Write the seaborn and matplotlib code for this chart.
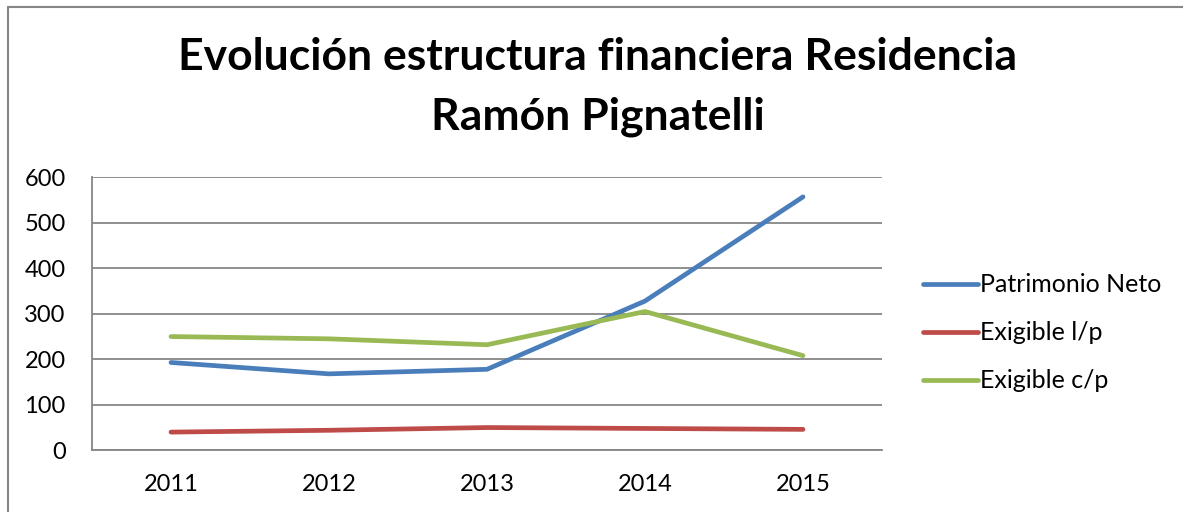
import pandas as pd
import matplotlib.pyplot as plt
import seaborn as sns
from matplotlib.lines import Line2D

# Data
years = ['2011', '2012', '2013', '2014', '2015']
patrimonio_neto = [193, 168, 178, 328, 557]
exigible_lp = [40, 44, 50, 48, 46]
exigible_cp = [250, 245, 232, 305, 208]
series_names = ['Patrimonio Neto', 'Exigible l/p', 'Exigible c/p']
series_colors = ['#4A7EBB', '#BE4B48', '#98B954']

df = pd.DataFrame({
    'year': years * 3,
    'value': patrimonio_neto + exigible_lp + exigible_cp,
    'serie': [n for n in series_names for _ in years],
})

sns.set_style('white')
plt.rcParams['font.family'] = ['Lato', 'DejaVu Sans']
plt.rcParams['text.color'] = 'black'

fig = plt.figure(figsize=(11.83, 5.12), dpi=100)
ax = fig.add_axes([92 / 1183, 1 - 450.3 / 512, 790 / 1183, 273 / 512])

sns.lineplot(data=df, x='year', y='value', hue='serie', hue_order=series_names,
             palette=series_colors, linewidth=3.4, ax=ax, legend=False)

ax.set_xlim(-0.5, 4.5)
ax.set_ylim(0, 600)
ax.set_yticks(range(0, 601, 100))
ax.yaxis.grid(True, color='#868686', linewidth=1.3)
ax.set_axisbelow(True)
ax.set_xlabel('')
ax.set_ylabel('')
for side in ['top', 'right']:
    ax.spines[side].set_visible(False)
for side in ['left', 'bottom']:
    ax.spines[side].set_color('#868686')
    ax.spines[side].set_linewidth(1.3)
ax.tick_params(axis='y', length=0, pad=19, labelsize=17, labelcolor='black')
ax.tick_params(axis='x', length=0, pad=17, labelsize=17, labelcolor='black')

# Legend
handles = [Line2D([0], [0], color=c, linewidth=3.4) for c in series_colors]
leg = fig.legend(handles, series_names, loc='center left', bbox_to_anchor=(900 / 1183, 1 - 333 / 512),
                 frameon=False, fontsize=18, handlelength=2.2, handletextpad=0.12, labelspacing=1.0)
for t in leg.get_texts():
    t.set_color('black')

# Title
fig.text(598 / 1183, 1 - 57 / 512, 'Evolución estructura financiera Residencia',
         ha='center', va='center', fontsize=32, fontweight='bold', color='black')
fig.text(598 / 1183, 1 - 117 / 512, 'Ramón Pignatelli',
         ha='center', va='center', fontsize=32, fontweight='bold', color='black')

# Outer chart frame (top and left edges visible)
fig.add_artist(Line2D([8 / 1183, 1], [1 - 7 / 512, 1 - 7 / 512], color='#868686', linewidth=1.5))
fig.add_artist(Line2D([8 / 1183, 8 / 1183], [0, 1 - 7 / 512], color='#868686', linewidth=1.5))

fig.savefig('out.png', dpi=100)
